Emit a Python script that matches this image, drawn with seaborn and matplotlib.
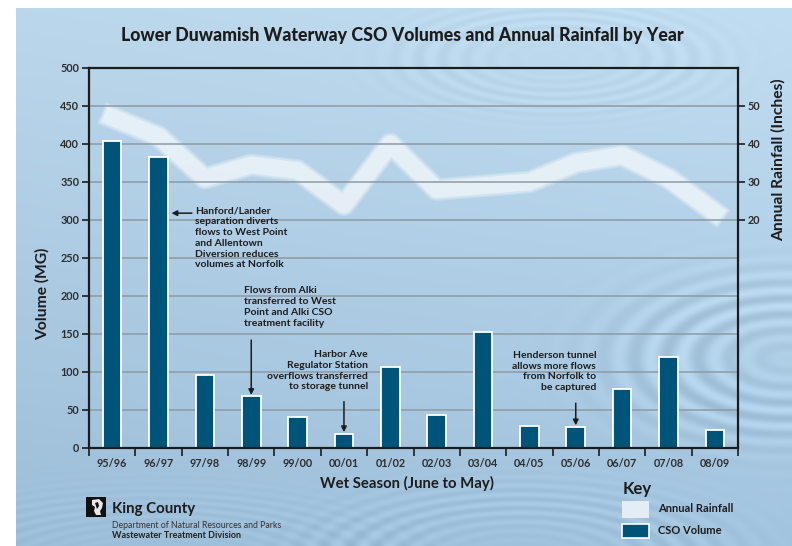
import numpy as np
import pandas as pd
import matplotlib
matplotlib.use("Agg")
import matplotlib.pyplot as plt
import seaborn as sns
from matplotlib.patches import Rectangle, Polygon

# ---- data ----
seasons = ["95/96", "96/97", "97/98", "98/99", "99/00", "00/01", "01/02",
           "02/03", "03/04", "04/05", "05/06", "06/07", "07/08", "08/09"]
cso_volume_mg = [404, 383, 96, 68, 41, 19, 106, 43, 152, 29, 28, 78, 120, 24]
rainfall_in = [47, 42, 31, 34.5, 33, 24, 40, 28, 29, 30, 35, 37, 31, 22]
volume_ticks = [0, 50, 100, 150, 200, 250, 300, 350, 400, 450, 500]
rain_ticks = [20, 30, 40, 50]

df = pd.DataFrame({"season": seasons, "volume": cso_volume_mg, "rain": rainfall_in})
df["pos"] = np.arange(len(df))

BAR = "#005479"
INK = "#1c1c1c"
TICK_TXT = "#2e2e2e"
GRID = "#8d9aa4"

sns.set_theme(style="white")
plt.rcParams["font.family"] = ["Lato", "DejaVu Sans"]

W, H = 792, 546
fig = plt.figure(figsize=(W / 100, H / 100), dpi=100)
fig.patch.set_facecolor("white")

# ---- water backdrop ----
bg = fig.add_axes([16 / W, 0, 1 - 16 / W, 1 - 8 / H])
bh, bw = 538, 776
yy, xx = np.mgrid[0:bh, 0:bw].astype(float)
t = yy / bh
top = np.array([190, 218, 238], float)
bot = np.array([160, 193, 220], float)
img = top[None, None, :] * (1 - t[..., None]) + bot[None, None, :] * t[..., None]
img += (xx / bw - 0.5)[..., None] * 6


def ripple(cx, cy, squash, lam, rc, sw, amp):
    r = np.hypot(xx - cx, (yy - cy) / squash)
    return amp * np.sin(2 * np.pi * r / lam) * np.exp(-((r - rc) / sw) ** 2)


shade = (ripple(770, 350, 0.5, 32, 110, 80, 13)
         + ripple(540, 50, 0.35, 24, 120, 60, 5)
         + ripple(504, 552, 0.35, 26, 160, 80, 7)
         + ripple(140, 560, 0.3, 24, 200, 90, 4))
img += shade[..., None]
img = np.clip(img, 0, 255) / 255.0
bg.imshow(img, aspect="auto", interpolation="bilinear")
bg.set_axis_off()

# ---- chart axes ----
ax_rain = fig.add_axes([89 / W, 1 - 448 / H, (738 - 89) / W, (448 - 68) / H])
ax_rain.set_facecolor("none")
ax_vol = ax_rain.twinx()

# rainfall band, soft edged
for lw, a in [(16.5, 0.25), (14.5, 0.35), (12.0, 0.6)]:
    sns.lineplot(data=df, x="pos", y="rain", ax=ax_rain, color="#f2f7fb",
                 linewidth=lw, alpha=a, solid_capstyle="projecting",
                 solid_joinstyle="round")

sns.barplot(data=df, x="season", y="volume", ax=ax_vol, color=BAR,
            saturation=1, width=0.4, edgecolor="white", linewidth=1.3)

ax_vol.yaxis.tick_left()
ax_vol.yaxis.set_label_position("left")
ax_rain.yaxis.tick_right()
ax_rain.yaxis.set_label_position("right")

ax_vol.set_ylim(0, 500)
ax_rain.set_ylim(-40, 60)
ax_rain.set_xlim(-0.5, len(seasons) - 0.5)

ax_vol.set_yticks(volume_ticks)
ax_vol.set_yticklabels([str(v) for v in volume_ticks])
ax_rain.set_yticks(rain_ticks)
ax_rain.set_yticklabels([str(v) for v in rain_ticks])

ax_rain.set_xticks(np.arange(len(seasons)))
ax_rain.set_xticklabels(seasons)
ax_rain.set_xticks(np.arange(-0.5, len(seasons), 1.0), minor=True)

ax_vol.yaxis.grid(True, color=GRID, linewidth=1.1)
ax_vol.xaxis.grid(False)
ax_rain.grid(False)
ax_vol.set_axisbelow(True)

for s in ax_rain.spines.values():
    s.set_visible(False)
for s in ax_vol.spines.values():
    s.set_visible(True)
    s.set_color(INK)
    s.set_linewidth(1.6)

tick_font = dict(labelsize=7.8, labelcolor=TICK_TXT)
ax_vol.tick_params(axis="y", which="major", left=True, right=False,
                   labelleft=True, labelright=False, direction="out",
                   length=5, width=1.2, color=INK, pad=2, **tick_font)
ax_rain.tick_params(axis="y", which="major", right=True, left=False,
                    labelright=True, labelleft=False, direction="out",
                    length=5, width=1.2, color=INK, pad=2, **tick_font)
ax_rain.tick_params(axis="x", which="major", bottom=True, length=0, pad=7,
                    **tick_font)
ax_rain.tick_params(axis="x", which="minor", bottom=True, length=6,
                    width=1.2, color=INK, direction="out")
for lab in (ax_vol.get_yticklabels() + ax_rain.get_yticklabels()
            + ax_rain.get_xticklabels()):
    lab.set_fontweight("bold")

ax_vol.set_xlabel("")
ax_vol.set_ylabel("Volume (MG)", fontsize=10.5, fontweight="bold", color=INK)
ax_vol.yaxis.set_label_coords(-0.060, 0.405)
ax_rain.set_ylabel("Annual Rainfall (Inches)", fontsize=10.5,
                   fontweight="bold", color=INK)
ax_rain.yaxis.set_label_coords(1.051, 0.758)
ax_rain.set_xlabel("Wet Season (June to May)", fontsize=11,
                   fontweight="bold", color=INK)
ax_rain.xaxis.set_label_coords(0.49, -0.074)

# ---- notes ----
note = dict(fontsize=7.5, fontweight="bold", color=INK, linespacing=1.26,
            va="top")
arrow = dict(arrowstyle="-|>", color=INK, lw=1.1, mutation_scale=8,
             shrinkA=0, shrinkB=1)

ax_vol.text(1.79, 318, "Hanford/Lander\nseparation diverts\nflows to West Point\n"
            "and Allentown\nDiversion reduces\nvolumes at Norfolk",
            ha="left", **note)
ax_vol.annotate("", xy=(1.25, 309), xytext=(1.72, 309), arrowprops=arrow)

ax_vol.text(2.84, 213, "Flows from Alki\ntransferred to West\nPoint and Alki CSO\n"
            "treatment facility", ha="left", **note)
ax_vol.annotate("", xy=(3, cso_volume_mg[3]), xytext=(3, 142), arrowprops=arrow)

ax_vol.text(5.52, 129, "Harbor Ave\nRegulator Station\noverflows transferred\n"
            "to storage tunnel", ha="right", **note)
ax_vol.annotate("", xy=(5, cso_volume_mg[5]), xytext=(5, 61), arrowprops=arrow)

ax_vol.text(10.44, 128, "Henderson tunnel\nallows more flows\nfrom Norfolk to\n"
            "be captured", ha="right", **note)
ax_vol.annotate("", xy=(10, cso_volume_mg[10]), xytext=(10, 59),
                arrowprops=arrow)

# ---- title ----
title = fig.text(0.508, 1 - 36 / H,
                 "Lower Duwamish Waterway CSO Volumes and Annual Rainfall by Year",
                 ha="center", va="center", fontsize=13.5, fontweight="black",
                 color=INK)


def fx(px):
    return px / W


def fy(py):
    return 1 - py / H


# ---- key ----
fig.text(fx(623), fy(489), "Key", fontsize=12, fontweight="bold", color=INK,
         ha="left", va="center")
fig.patches.append(Rectangle((fx(622), fy(518)), 27 / W, 17 / H,
                             transform=fig.transFigure, facecolor="#e4ecf4",
                             edgecolor="none"))
fig.text(fx(658), fy(509), "Annual Rainfall", fontsize=8, fontweight="bold",
         color=INK, ha="left", va="center")
fig.patches.append(Rectangle((fx(622), fy(538)), 27 / W, 14 / H,
                             transform=fig.transFigure, facecolor=BAR,
                             edgecolor="white", linewidth=1.2))
fig.text(fx(658), fy(531), "CSO Volume", fontsize=8, fontweight="bold",
         color=INK, ha="left", va="center")

# ---- agency mark ----
fig.patches.append(Rectangle((fx(86), fy(517)), 20 / W, 20 / H,
                             transform=fig.transFigure, facecolor="#111111",
                             edgecolor="none"))
face = [(92, 500), (99, 499), (103, 503), (102, 508), (100, 511), (101, 515),
        (96, 515), (94, 511), (95, 507), (92, 505)]
fig.patches.append(Polygon([(fx(a), fy(b)) for a, b in face], closed=True,
                           transform=fig.transFigure, facecolor="#e8e8e8",
                           edgecolor="none"))
fig.patches.append(Polygon([(fx(a), fy(b)) for a, b in
                            [(95, 503), (98, 502), (99, 506), (97, 509), (96, 506)]],
                           closed=True, transform=fig.transFigure,
                           facecolor="#111111", edgecolor="none"))
kc = fig.text(fx(112), fy(509), "King County", fontsize=11.5,
              fontweight="bold", color=INK, ha="left", va="center")
fig.text(fx(112), fy(525), "Department of Natural Resources and Parks",
         fontsize=6.3, color="#333333", ha="left", va="center")
fig.text(fx(112), fy(535), "Wastewater Treatment Division", fontsize=6.5,
         fontweight="bold", color="#222222", ha="left", va="center")

# size a few headings to their measured widths
fig.canvas.draw()
renderer = fig.canvas.get_renderer()


def fit(txt, target, vertical=False):
    ext = txt.get_window_extent(renderer)
    cur = ext.height if vertical else ext.width
    txt.set_fontsize(txt.get_fontsize() * target / cur)


fit(title, 565)
fit(kc, 83)
fit(ax_rain.xaxis.label, 173)
fit(ax_vol.yaxis.label, 93, vertical=True)
fit(ax_rain.yaxis.label, 163, vertical=True)

fig.savefig("out.png", dpi=100, facecolor=fig.get_facecolor())
